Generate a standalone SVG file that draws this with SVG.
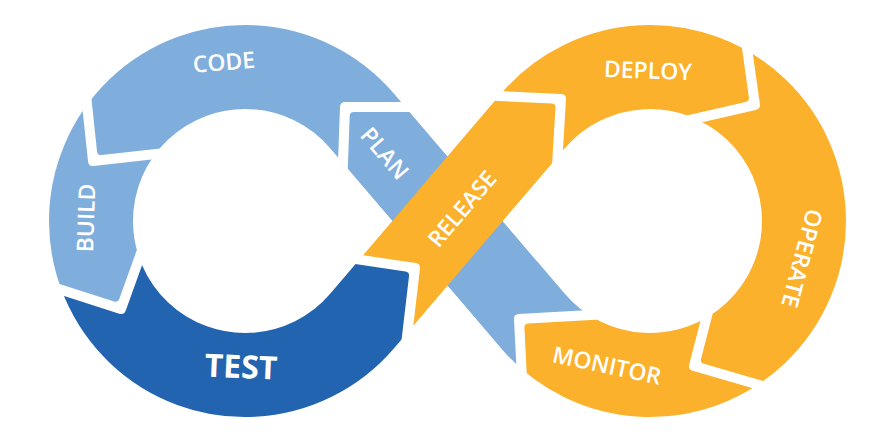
<svg xmlns="http://www.w3.org/2000/svg" width="894" height="443" viewBox="0 0 894 443">
<style>
.lb{fill:#7FAEDD}
.db{fill:#2264AF}
.or{fill:#FBB12B}
.t{font-family:"Open Sans","Liberation Sans",sans-serif;font-size:23px;font-weight:600;fill:#ffffff;text-anchor:middle}
.tb{font-weight:bold;font-size:32px}
</style>
<defs>
<clipPath id="band">
<path d="M394.06,93.72 A196,196 0 1 0 394.06,348.28 L330.18,293.74 A112,112 0 1 1 330.18,148.26 Z"/>
<path d="M500.94,93.72 A196,196 0 1 1 500.94,348.28 L564.82,293.74 A112,112 0 1 0 564.82,148.26 Z"/>
<path d="M394.06,93.72 L564.82,293.74 L500.94,348.28 L330.18,148.26 Z"/>
<path d="M330.18,293.74 L500.94,93.72 L564.82,148.26 L394.06,348.28 Z"/>
</clipPath>
</defs>
<rect width="894" height="443" fill="#ffffff"/>
<g id="plan">
<path class="lb" clip-path="url(#band)" d="M598.59,309.6 L518.75,314.0 Q513.76,314.28 514.01,319.28 L516.36,366.33 L347.77,168.89 L349.68,116.0 Q349.82,112.0 353.82,112.0 L409.64,112.0 L536.0,260 Z"/>
<text class="t" x="378.5" y="158.6" transform="rotate(49.5 378.5 158.6)">PLAN</text>
</g>
<g id="code">
<path class="lb" clip-path="url(#band)" d="M337.66,171.93 L340.0,107.0 Q340.18,102.0 345.18,102.0 L410.18,102.0 L410,15 L89.05,15 L89.05,75.95 L97.03,151.49 Q97.45,155.47 101.43,155.02 L167.03,147.63 L245,221 Z"/>
<text class="t" x="224.5" y="70.3" transform="rotate(-4.5 224.5 70.3)">CODE</text>
</g>
<g id="build">
<path class="lb" clip-path="url(#band)" d="M158.13,158.69 L93.52,165.97 Q88.55,166.53 88.03,161.56 L80.15,87.01 L0,87 L0,278.29 L41.77,278.29 L114.12,301.55 Q117.93,302.77 119.28,299.01 L139.83,241.67 L245,221 Z"/>
<text class="t" x="94.1" y="218.3" transform="rotate(-88 94.1 218.3)">BUILD</text>
</g>
<g id="test">
<path class="db" clip-path="url(#band)" d="M145.98,254.13 L125.77,310.53 Q124.08,315.23 119.32,313.7 L47.92,290.75 L0,290.75 L0,443 L399.6,443 L399.6,356.62 L409.01,276.19 Q409.475,272.22 405.52,271.62 L340.25,261.79 L245,221 Z"/>
<text class="t tb" x="240.5" y="378" transform="rotate(2.5 240.5 378)">TEST</text>
</g>
<g id="deploy">
<path class="or" clip-path="url(#band)" d="M561.8,169.1 L565.995,99.24 Q566.295,94.25 561.3,94.01 L491.37,90.65 L491.37,10 L738.31,10 L738.31,21.965 L748.874,97.205 Q749.43,101.165 745.53,102.057 L681.18,116.775 L650,221 Z"/>
<text class="t" x="647.7" y="78.6" transform="rotate(2 647.7 78.6)">DEPLOY</text>
</g>
<g id="operate">
<path class="or" clip-path="url(#band)" d="M692.32,124.445 L755.695,109.95 Q760.57,108.835 759.875,103.885 L749.45,29.635 L749.45,10 L894,10 L894,443 L776.85,443 L776.85,384.965 L703.89,363.685 Q700.05,362.565 701.05,358.697 L717.55,294.875 L650,221 Z"/>
<text class="t" x="794.2" y="256.3" transform="rotate(105 794.2 256.3)">OPERATE</text>
</g>
<g id="monitor">
<path class="or" clip-path="url(#band)" d="M705.45,301.745 L689.2,364.6 Q687.95,369.435 692.75,370.835 L764.75,391.835 L764.75,443 L527.24,443 L527.24,383.66 L524.44,327.716 Q524.24,323.72 528.232,323.5 L609.07,319.045 L650,221 Z"/>
<text class="t" x="605.2" y="373.4" transform="rotate(12 605.2 373.4)">MONITOR</text>
</g>
<g id="release">
<path class="or" d="M363.13,255.13 L415.58,263.04 Q420.525,263.78 419.945,268.745 L413.29,325.73 L552.135,163.13 L555.465,107.74 Q555.705,103.75 551.709,103.558 L494.885,100.83 Z"/>
<text class="t" x="468.2" y="213.9" transform="rotate(-49.5 468.2 213.9)" style="font-size:22.5px">RELEASE</text>
</g>
<g id="connectors"/>
</svg>
